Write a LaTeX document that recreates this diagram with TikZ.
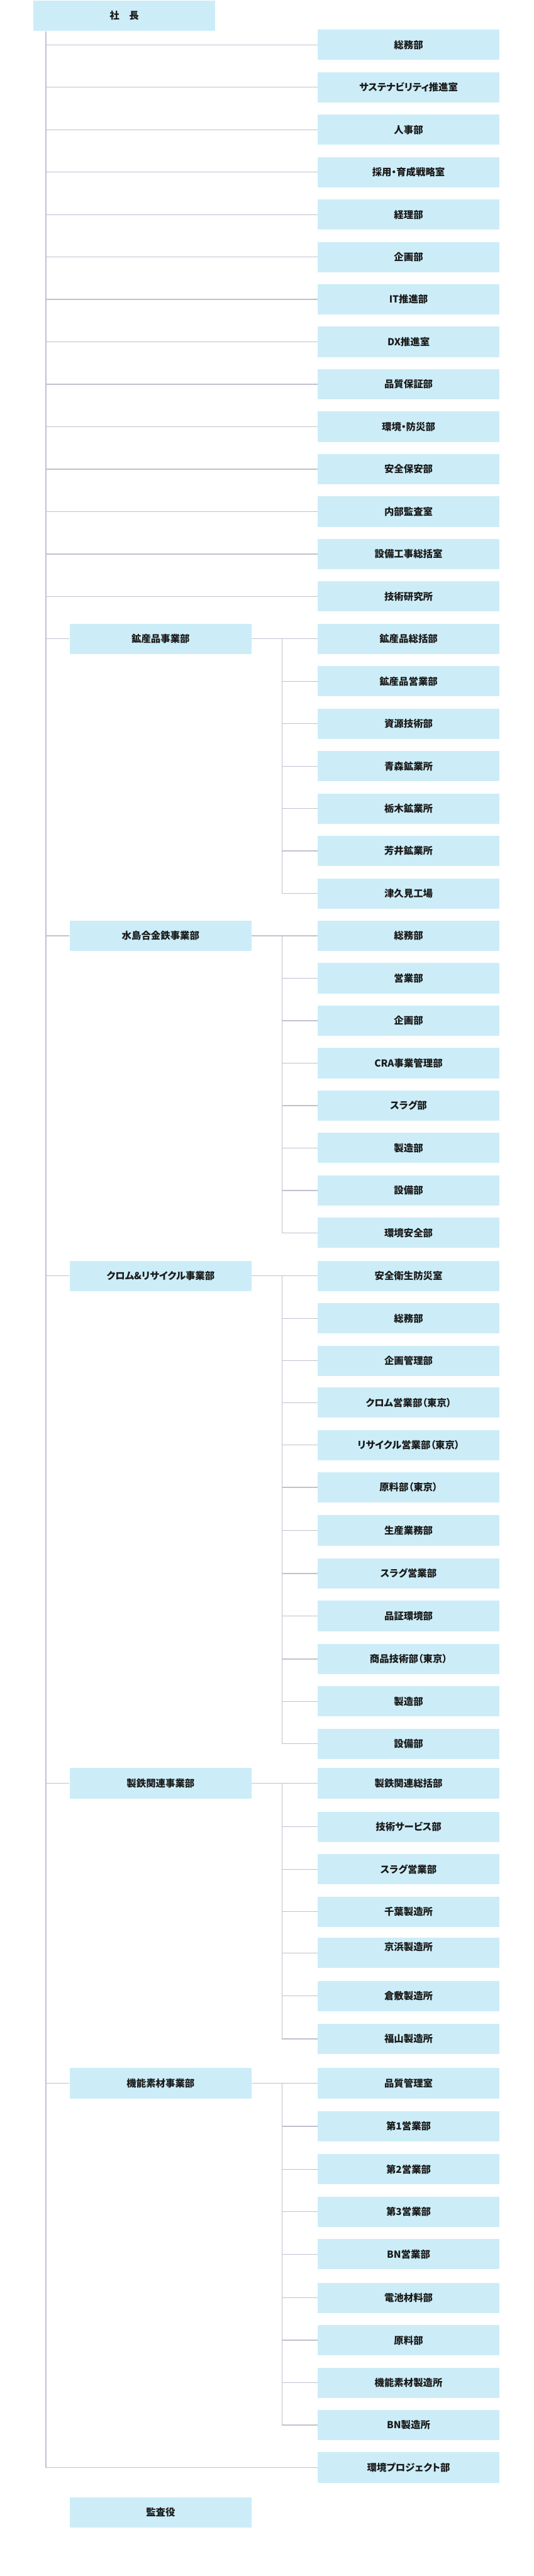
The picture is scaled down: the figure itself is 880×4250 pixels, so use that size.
\documentclass[tikz,border=0pt]{standalone}
\usepackage{fontspec}
\setmainfont{Noto Sans CJK JP}[RawFeature=+palt]
\definecolor{boxfill}{HTML}{CCEDF8}
\definecolor{linec}{HTML}{C0C1CF}
\definecolor{txt}{HTML}{1A1A1A}
\tikzset{
  orgbox/.style={fill=boxfill, draw=none, inner sep=0pt, minimum width=150pt, minimum height=25pt,
    text=txt, font=\bfseries\fontsize{8pt}{10pt}\selectfont},
  conn/.style={draw=linec, line width=0.7pt}
}
\begin{document}
\begin{tikzpicture}[x=0.5pt,y=-0.5pt]
\useasboundingbox (0,0) rectangle (880,4250);
\fill[white] (0,0) rectangle (880,4250);
% president
\node[orgbox] (ceo) at (205,26) {社　長};
\coordinate (tk) at ([xshift=10.5pt]ceo.south west);
% top staff
\node[orgbox] (a1) at (674,74) {総務部};
\node[orgbox] (a2) at (674,144) {サステナビリティ推進室};
\node[orgbox] (a3) at (674,214) {人事部};
\node[orgbox] (a4) at (674,284) {採用・育成戦略室};
\node[orgbox] (a5) at (674,354) {経理部};
\node[orgbox] (a6) at (674,424) {企画部};
\node[orgbox] (a7) at (674,494) {IT推進部};
\node[orgbox] (a8) at (674,564) {DX推進室};
\node[orgbox] (a9) at (674,634) {品質保証部};
\node[orgbox] (a10) at (674,704) {環境・防災部};
\node[orgbox] (a11) at (674,774) {安全保安部};
\node[orgbox] (a12) at (674,844) {内部監査室};
\node[orgbox] (a13) at (674,914) {設備工事総括室};
\node[orgbox] (a14) at (674,984) {技術研究所};
% division 1
\node[orgbox] (d1) at (265,1054) {鉱産品事業部};
\node[orgbox] (b1) at (674,1054) {鉱産品総括部};
\node[orgbox] (b2) at (674,1124) {鉱産品営業部};
\node[orgbox] (b3) at (674,1194) {資源技術部};
\node[orgbox] (b4) at (674,1264) {青森鉱業所};
\node[orgbox] (b5) at (674,1334) {栃木鉱業所};
\node[orgbox] (b6) at (674,1404) {芳井鉱業所};
\node[orgbox] (b7) at (674,1474) {津久見工場};
% division 2
\node[orgbox] (d2) at (265,1544) {水島合金鉄事業部};
\node[orgbox] (c1) at (674,1544) {総務部};
\node[orgbox] (c2) at (674,1614) {営業部};
\node[orgbox] (c3) at (674,1684) {企画部};
\node[orgbox] (c4) at (674,1754) {CRA事業管理部};
\node[orgbox] (c5) at (674,1824) {スラグ部};
\node[orgbox] (c6) at (674,1894) {製造部};
\node[orgbox] (c7) at (674,1964) {設備部};
\node[orgbox] (c8) at (674,2034) {環境安全部};
% division 3
\node[orgbox] (d3) at (265,2105) {クロム\&リサイクル事業部};
\node[orgbox] (e1) at (674,2105) {安全衛生防災室};
\node[orgbox] (e2) at (674,2175) {総務部};
\node[orgbox] (e3) at (674,2245) {企画管理部};
\node[orgbox] (e4) at (674,2314) {クロム営業部（東京）};
\node[orgbox] (e5) at (674,2384) {リサイクル営業部（東京）};
\node[orgbox] (e6) at (674,2454) {原料部（東京）};
\node[orgbox] (e7) at (674,2525) {生産業務部};
\node[orgbox] (e8) at (674,2596) {スラグ営業部};
\node[orgbox] (e9) at (674,2666) {品証環境部};
\node[orgbox] (e10) at (674,2737) {商品技術部（東京）};
\node[orgbox] (e11) at (674,2807) {製造部};
\node[orgbox] (e12) at (674,2877) {設備部};
% division 4
\node[orgbox] (d4) at (265,2942) {製鉄関連事業部};
\node[orgbox] (f1) at (674,2942) {製鉄関連総括部};
\node[orgbox] (f2) at (674,3014) {技術サービス部};
\node[orgbox] (f3) at (674,3084) {スラグ営業部};
\node[orgbox] (f4) at (674,3154) {千葉製造所};
\node[orgbox, label={[yshift=5pt, text=txt, font=\bfseries\fontsize{8pt}{10pt}\selectfont]center:京浜製造所}] (f5) at (674,3222) {};
\node[orgbox] (f6) at (674,3293) {倉敷製造所};
\node[orgbox] (f7) at (674,3364) {福山製造所};
% division 5
\node[orgbox] (d5) at (265,3437) {機能素材事業部};
\node[orgbox] (g1) at (674,3437) {品質管理室};
\node[orgbox] (g2) at (674,3508) {第1営業部};
\node[orgbox] (g3) at (674,3579) {第2営業部};
\node[orgbox] (g4) at (674,3649) {第3営業部};
\node[orgbox] (g5) at (674,3719) {BN営業部};
\node[orgbox] (g6) at (674,3791) {電池材料部};
\node[orgbox] (g7) at (674,3861) {原料部};
\node[orgbox] (g8) at (674,3931) {機能素材製造所};
\node[orgbox] (g9) at (674,4001) {BN製造所};
% last staff
\node[orgbox] (env) at (674,4071) {環境プロジェクト部};
% auditor
\node[orgbox] (aud) at (265,4145) {監査役};
% main trunk
\draw[conn] (tk) |- (env.west);
\foreach \n in {a1,a2,a3,a4,a5,a6,a7,a8,a9,a10,a11,a12,a13,a14,d1,d2,d3,d4,d5}
  \draw[conn] (\n.west) -- (\n.west -| tk);
% division branches
\foreach \d/\f/\l/\mids in {d1/b1/b7/{b2,b3,b4,b5,b6},
                           d2/c1/c8/{c2,c3,c4,c5,c6,c7},
                           d3/e1/e12/{e2,e3,e4,e5,e6,e7,e8,e9,e10,e11},
                           d4/f1/f7/{f2,f3,f4,f5,f6},
                           d5/g1/g9/{g2,g3,g4,g5,g6,g7,g8}}{
  \draw[conn] (\d.east) -- (\f.west);
  \coordinate (st) at ([xshift=25pt]\d.east);
  \draw[conn] (st) |- (\l.west);
  \foreach \m in \mids
    \draw[conn] (\m.west) -- (\m.west -| st);
}
\end{tikzpicture}
\end{document}
